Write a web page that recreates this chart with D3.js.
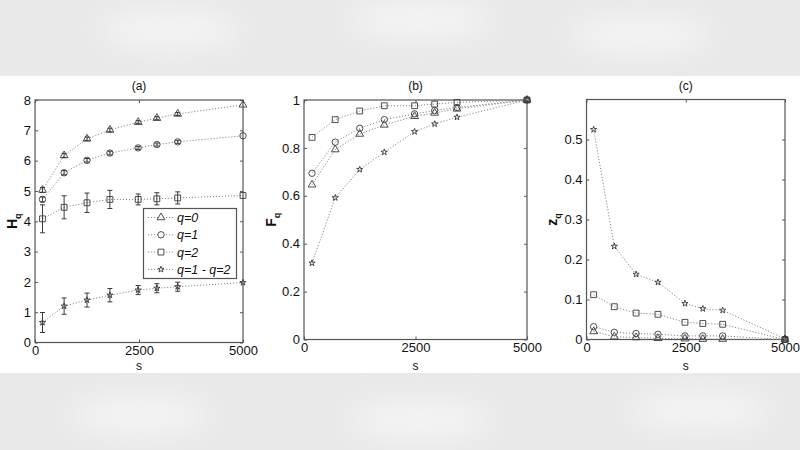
<!DOCTYPE html>
<html>
<head>
<meta charset="utf-8">
<script src="https://cdn.jsdelivr.net/npm/d3@7"></script>
<style>
  body { margin: 0; background: #fff; }
  svg { display: block; font-family: "Liberation Sans", Arial, sans-serif; }
</style>
</head>
<body>
<div id="chart"></div>
<script>
// window sizes s (same for all three panels)
const sVals = [180, 700, 1250, 1800, 2480, 2930, 3430, 5000];

// (a) H_q
const hq0 = [5.03, 6.17, 6.72, 7.01, 7.27, 7.40, 7.54, 7.84];
const hq1 = [4.72, 5.60, 6.01, 6.25, 6.42, 6.53, 6.62, 6.82];
const hq2 = [4.08, 4.46, 4.61, 4.72, 4.72, 4.74, 4.77, 4.85];
const hq12 = [0.66, 1.20, 1.40, 1.56, 1.73, 1.79, 1.84, 1.98];
const errH0 = [0.08, 0.07, 0.06, 0.06, 0.05, 0.05, 0.05, 0];
const errH1 = [0.08, 0.07, 0.06, 0.06, 0.05, 0.05, 0.05, 0];
const errH2 = [0.46, 0.38, 0.32, 0.30, 0.18, 0.20, 0.20, 0];
const errH12 = [0.33, 0.27, 0.23, 0.22, 0.15, 0.15, 0.15, 0];

// (b) F_q
const fq0 = [0.646, 0.793, 0.858, 0.896, 0.932, 0.946, 0.963, 1];
const fq1 = [0.694, 0.824, 0.882, 0.918, 0.942, 0.956, 0.969, 1];
const fq2 = [0.844, 0.918, 0.954, 0.976, 0.976, 0.983, 0.990, 1];
const fq12 = [0.319, 0.592, 0.710, 0.782, 0.868, 0.900, 0.928, 1];

// (c) z_q
const zq0 = [0.020, 0.007, 0.005, 0.003, 0.002, 0.001, 0.001, 0];
const zq1 = [0.032, 0.018, 0.015, 0.013, 0.009, 0.009, 0.009, 0];
const zq2 = [0.112, 0.082, 0.066, 0.063, 0.043, 0.040, 0.038, 0];
const zq12 = [0.525, 0.233, 0.163, 0.143, 0.090, 0.077, 0.073, 0.002];

const seriesNames = ["q=0", "q=1", "q=2", "q=1 - q=2"];
const xTicks = [0, 2500, 5000];

const W = 800, H = 450;
const axisColor = "#555";
const markColor = "#3a3a3a";
const lineColor = "#8a8a8a";

const svg = d3.select("#chart").append("svg")
    .attr("width", W)
    .attr("height", H);

// blurred strip above and below the figure
const defs = svg.append("defs");
defs.append("filter").attr("id", "blur")
    .append("feGaussianBlur").attr("stdDeviation", 14);
svg.append("rect").attr("x", 0).attr("y", 0).attr("width", W).attr("height", 76).attr("fill", "#e9e9e9");
svg.append("rect").attr("x", 0).attr("y", 373).attr("width", W).attr("height", 77).attr("fill", "#e9e9e9");
const blobs = svg.append("g").attr("filter", "url(#blur)");
[[170, 30], [420, 20], [640, 35], [140, 415], [420, 420], [700, 410]].forEach(([cx, cy]) => {
    blobs.append("ellipse").attr("cx", cx).attr("cy", cy).attr("rx", 70).attr("ry", 18).attr("fill", "#f4f4f4");
});
svg.append("rect").attr("x", 0).attr("y", 76).attr("width", W).attr("height", 297).attr("fill", "#fff");

const symbols = [d3.symbolTriangle, d3.symbolCircle, d3.symbolSquare, d3.symbolStar];
const symSizes = [26, 32, 34, 12];
const symbolPath = i => d3.symbol().type(symbols[i]).size(symSizes[i])();

//draw one panel
function drawPanel(cfg) {
    const x = d3.scaleLinear().domain([0, 5000]).range([cfg.x0, cfg.x1]);
    const y = d3.scaleLinear().domain(cfg.yDomain).range([cfg.y1, cfg.y0]);
    const g = svg.append("g");

    // inward ticks on all sides (matlab box style)
    const tl = 3;
    g.append("g").attr("transform", `translate(0,${cfg.y1})`)
        .call(d3.axisBottom(x).tickValues(xTicks).tickSizeInner(-tl).tickSizeOuter(0).tickPadding(3).tickFormat(d3.format("d")));
    g.append("g").attr("transform", `translate(0,${cfg.y0})`)
        .call(d3.axisTop(x).tickValues(xTicks).tickSizeInner(-tl).tickSizeOuter(0).tickFormat(""));
    g.append("g").attr("transform", `translate(${cfg.x0},0)`)
        .call(d3.axisLeft(y).tickValues(cfg.yTicks).tickSizeInner(-tl).tickSizeOuter(0).tickPadding(4).tickFormat(cfg.yFormat));
    g.append("g").attr("transform", `translate(${cfg.x1},0)`)
        .call(d3.axisRight(y).tickValues(cfg.yTicks).tickSizeInner(-tl).tickSizeOuter(0).tickFormat(""));
    g.selectAll(".domain").remove();
    g.selectAll(".tick line").attr("stroke", axisColor);
    g.selectAll(".tick text").attr("fill", "#111").attr("font-size", 13);

    g.append("rect")
        .attr("x", cfg.x0).attr("y", cfg.y0)
        .attr("width", cfg.x1 - cfg.x0).attr("height", cfg.y1 - cfg.y0)
        .attr("fill", "none").attr("stroke", axisColor).attr("stroke-width", 1.2);

    const line = d3.line().x((d, i) => x(sVals[i])).y(d => y(d));

    cfg.series.forEach((vals, k) => {
        g.append("path")
            .attr("d", line(vals))
            .attr("fill", "none")
            .attr("stroke", lineColor)
            .attr("stroke-width", 1)
            .attr("stroke-dasharray", "1.2,1.8");

        if (cfg.errors) {
            const err = cfg.errors[k];
            vals.forEach((v, i) => {
                if (!err[i]) return;
                const cx = x(sVals[i]);
                const ya = y(v + err[i]), yb = y(v - err[i]);
                g.append("path")
                    .attr("d", `M${cx},${ya}V${yb}M${cx - 2.5},${ya}H${cx + 2.5}M${cx - 2.5},${yb}H${cx + 2.5}`)
                    .attr("stroke", markColor).attr("stroke-width", 1).attr("fill", "none");
            });
        }

        g.selectAll(null).data(vals).join("path")
            .attr("d", symbolPath(k))
            .attr("transform", (d, i) => `translate(${x(sVals[i])},${y(d)})`)
            .attr("fill", "none")
            .attr("stroke", markColor)
            .attr("stroke-width", 0.9);
    });

    // title
    svg.append("text")
        .attr("x", (cfg.x0 + cfg.x1) / 2).attr("y", 90)
        .attr("text-anchor", "middle").attr("font-size", 12).attr("fill", "#111")
        .text(cfg.title);

    // x label
    svg.append("text")
        .attr("x", (cfg.x0 + cfg.x1) / 2).attr("y", 370)
        .attr("text-anchor", "middle").attr("font-size", 12).attr("fill", "#111")
        .text("s");

    // y label with subscript
    const yl = svg.append("text")
        .attr("transform", `translate(${cfg.labelX},${(cfg.y0 + cfg.y1) / 2}) rotate(-90)`)
        .attr("text-anchor", "middle").attr("font-size", 14).attr("font-weight", "bold").attr("fill", "#111");
    yl.append("tspan").text(cfg.yLabel);
    yl.append("tspan").attr("font-size", 9).attr("dy", 4).text("q");

    return { x, y, g };
}

const fmt1 = d => d === 0 ? "0" : d3.format(".1f")(d).replace(/\.0$/, "");

drawPanel({
    x0: 35, x1: 243, y0: 100, y1: 342.5,
    yDomain: [0, 8], yTicks: d3.range(0, 9), yFormat: d3.format("d"),
    series: [hq0, hq1, hq2, hq12],
    errors: [errH0, errH1, errH2, errH12],
    title: "(a)", yLabel: "H", labelX: 17
});

drawPanel({
    x0: 304, x1: 527, y0: 100, y1: 339.5,
    yDomain: [0, 1], yTicks: [0, 0.2, 0.4, 0.6, 0.8, 1], yFormat: fmt1,
    series: [fq0, fq1, fq2, fq12],
    title: "(b)", yLabel: "F", labelX: 276
});

drawPanel({
    x0: 586.5, x1: 785, y0: 99.5, y1: 339.5,
    yDomain: [0, 0.6], yTicks: [0, 0.1, 0.2, 0.3, 0.4, 0.5], yFormat: fmt1,
    series: [zq0, zq1, zq2, zq12],
    title: "(c)", yLabel: "z", labelX: 557
});

// legend of panel (a)
const legend = svg.append("g");
legend.append("rect")
    .attr("x", 143.5).attr("y", 208.5).attr("width", 93).attr("height", 70)
    .attr("fill", "#fff").attr("stroke", axisColor).attr("stroke-width", 1.2);
seriesNames.forEach((name, k) => {
    const ly = 217.5 + k * 17.3;
    legend.append("line")
        .attr("x1", 148).attr("x2", 174).attr("y1", ly).attr("y2", ly)
        .attr("stroke", lineColor).attr("stroke-dasharray", "1.2,1.8");
    legend.append("path")
        .attr("d", symbolPath(k))
        .attr("transform", `translate(161,${ly})`)
        .attr("fill", "#fff").attr("stroke", markColor).attr("stroke-width", 0.9);
    legend.append("text")
        .attr("x", 177).attr("y", ly + 4.5)
        .attr("font-size", 12.5).attr("font-style", "italic").attr("fill", "#111")
        .text(name);
});
</script>
</body>
</html>
